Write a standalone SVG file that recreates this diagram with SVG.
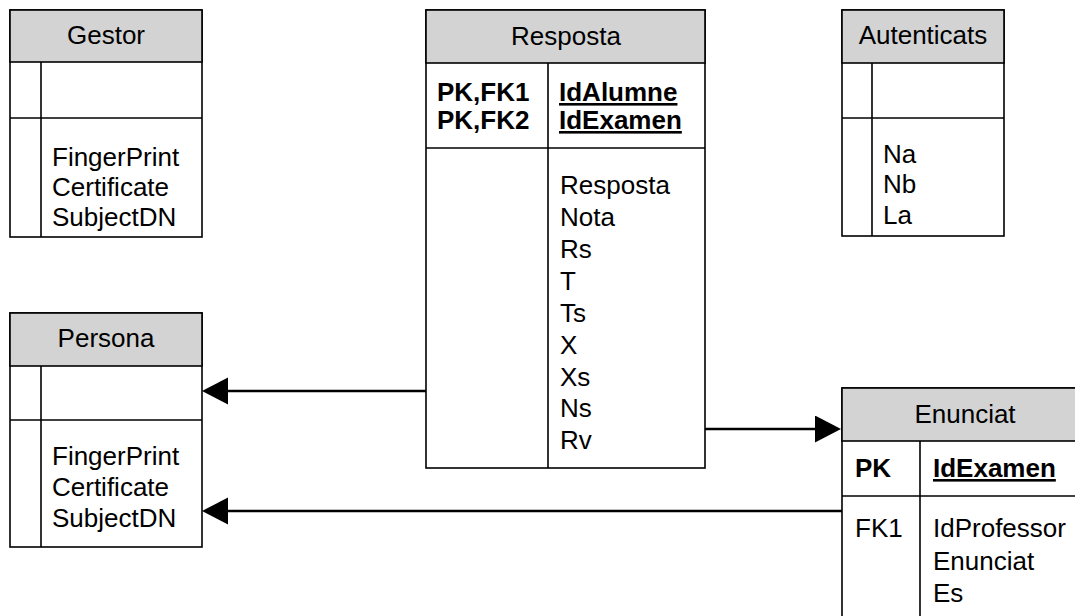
<svg xmlns="http://www.w3.org/2000/svg" width="1075" height="616" viewBox="0 0 1075 616">
  <style>
    .box { fill: #ffffff; stroke: #000000; stroke-width: 1.6; }
    .head { fill: #d3d3d3; stroke: #000000; stroke-width: 1.6; }
    .sep { stroke: #000000; stroke-width: 1.6; fill: none; }
    .conn { stroke: #000000; stroke-width: 2.6; fill: none; }
    text { font-family: "Liberation Sans", Arial, sans-serif; font-size: 26px; fill: #000000; }
    .title { text-anchor: middle; }
    .b { font-weight: bold; }
    .u { text-decoration: underline; }
  </style>
  <defs>
    <marker id="arrow" markerUnits="userSpaceOnUse" markerWidth="27" markerHeight="28" refX="0" refY="13.5" orient="auto">
      <path d="M0,0 L26,13.5 L0,27 Z" fill="#000000"/>
    </marker>
  </defs>

  <!-- Gestor -->
  <g id="gestor">
    <rect class="box" x="10" y="10" width="192" height="227"/>
    <rect class="head" x="10" y="10" width="192" height="52"/>
    <line class="sep" x1="10" y1="118" x2="202" y2="118"/>
    <line class="sep" x1="41" y1="62" x2="41" y2="237"/>
    <text class="title" x="106" y="44">Gestor</text>
    <text x="52" y="166">FingerPrint</text>
    <text x="52" y="196">Certificate</text>
    <text x="52" y="226">SubjectDN</text>
  </g>

  <!-- Resposta -->
  <g id="resposta">
    <rect class="box" x="426" y="10" width="279" height="458"/>
    <rect class="head" x="426" y="10" width="279" height="53"/>
    <line class="sep" x1="426" y1="148" x2="705" y2="148"/>
    <line class="sep" x1="548" y1="63" x2="548" y2="468"/>
    <text class="title" x="566" y="45">Resposta</text>
    <text class="b" x="437" y="101">PK,FK1</text>
    <text class="b" x="437" y="129">PK,FK2</text>
    <text class="b u" x="559" y="101">IdAlumne</text>
    <text class="b u" x="559" y="129">IdExamen</text>
    <text x="560" y="194">Resposta</text>
    <text x="560" y="226">Nota</text>
    <text x="560" y="258">Rs</text>
    <text x="560" y="290">T</text>
    <text x="560" y="322">Ts</text>
    <text x="560" y="354">X</text>
    <text x="560" y="386">Xs</text>
    <text x="560" y="417">Ns</text>
    <text x="560" y="449">Rv</text>
  </g>

  <!-- Autenticats -->
  <g id="autenticats">
    <rect class="box" x="842" y="10" width="162" height="226"/>
    <rect class="head" x="842" y="10" width="162" height="53"/>
    <line class="sep" x1="842" y1="118" x2="1004" y2="118"/>
    <line class="sep" x1="872" y1="63" x2="872" y2="236"/>
    <text class="title" x="923" y="44">Autenticats</text>
    <text x="883" y="163">Na</text>
    <text x="883" y="193">Nb</text>
    <text x="883" y="224">La</text>
  </g>

  <!-- Persona -->
  <g id="persona">
    <rect class="box" x="10" y="313" width="192" height="234"/>
    <rect class="head" x="10" y="313" width="192" height="53"/>
    <line class="sep" x1="10" y1="420" x2="202" y2="420"/>
    <line class="sep" x1="41" y1="366" x2="41" y2="547"/>
    <text class="title" x="106" y="347">Persona</text>
    <text x="52" y="465">FingerPrint</text>
    <text x="52" y="496">Certificate</text>
    <text x="52" y="527">SubjectDN</text>
  </g>

  <!-- Enunciat -->
  <g id="enunciat">
    <rect class="box" x="842" y="388" width="246" height="250"/>
    <rect class="head" x="842" y="388" width="246" height="53"/>
    <line class="sep" x1="842" y1="496" x2="1088" y2="496"/>
    <line class="sep" x1="920" y1="441" x2="920" y2="638"/>
    <text class="title" x="965" y="423">Enunciat</text>
    <text class="b" x="855" y="477">PK</text>
    <text class="b u" x="933" y="477">IdExamen</text>
    <text x="855" y="537">FK1</text>
    <text x="933" y="537">IdProfessor</text>
    <text x="933" y="570">Enunciat</text>
    <text x="933" y="602">Es</text>
  </g>

  <!-- Relationships -->
  <g id="connectors">
    <path class="conn" d="M426,391 L228,391" marker-end="url(#arrow)"/>
    <path class="conn" d="M705,429 L815,429" marker-end="url(#arrow)"/>
    <path class="conn" d="M842,511 L228,511" marker-end="url(#arrow)"/>
  </g>
</svg>
